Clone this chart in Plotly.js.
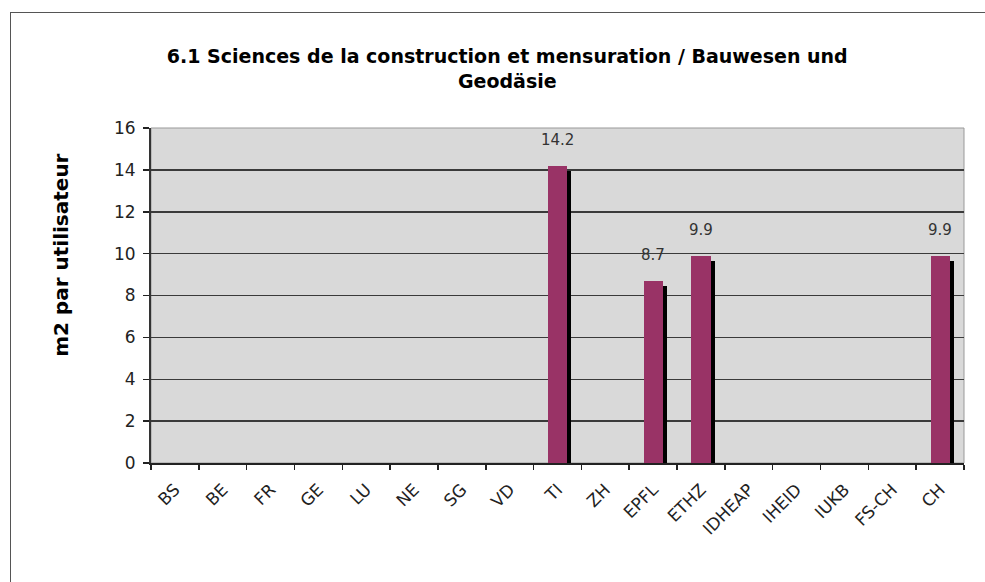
<!DOCTYPE html>
<html>
<head>
<meta charset="utf-8">
<script src="https://cdn.plot.ly/plotly-3.0.1.min.js"></script>
<style>
  html, body { margin: 0; padding: 0; background: #fff; }
  #wrap { position: relative; width: 985px; height: 582px; }
  #chart { position: absolute; left: 0; top: 0; width: 985px; height: 582px; }
  #frame { position: absolute; left: 10px; top: 12px; width: 980px; height: 580px;
           border-left: 1px solid #555; border-top: 1px solid #555; pointer-events: none; }
</style>
</head>
<body>
<div id="wrap">
  <div id="chart"></div>
  <div id="frame"></div>
</div>
<script>
const categories = ["BS","BE","FR","GE","LU","NE","SG","VD","TI","ZH","EPFL","ETHZ","IDHEAP","IHEID","IUKB","FS-CH","CH"];
const values = [null,null,null,null,null,null,null,null,14.2,null,8.7,9.9,null,null,null,null,9.9];
const valueLabels = [null,null,null,null,null,null,null,null,"14.2",null,"8.7","9.9",null,null,null,null,"9.9"];
const yTitle = "m2 par utilisateur";
const chartTitle = "6.1 Sciences de la construction et mensuration / Bauwesen und<br>Geodäsie";

const FONT = 'DejaVu Sans, Verdana, sans-serif';
const shadowDrop = 0.25;   // visual drop of the shadow top (style)
const barW = 0.4;

const shadow = {
  type: 'bar', x: categories,
  y: values.map(v => v === null ? null : v - shadowDrop),
  width: barW, offset: -barW/2 + 0.085,
  marker: { color: '#000000', line: { width: 0 } },
  hoverinfo: 'skip', showlegend: false
};
const main = {
  type: 'bar', x: categories, y: values,
  width: barW, offset: -barW/2,
  marker: { color: '#993366', line: { width: 0 } },
  showlegend: false
};

const annotations = [];
categories.forEach((c, i) => {
  if (values[i] !== null) {
    annotations.push({
      x: c, y: values[i], xref: 'x', yref: 'y',
      text: valueLabels[i], showarrow: false,
      yanchor: 'bottom', yshift: 15,
      font: { family: FONT, size: 15, color: '#333' }
    });
  }
});
annotations.push({
  text: '<b>' + yTitle + '</b>', xref: 'paper', yref: 'paper',
  x: -0.11, y: 0.62, xanchor: 'center', yanchor: 'middle',
  textangle: -90, showarrow: false,
  font: { family: FONT, size: 20, color: '#000' }
});

const layout = {
  width: 985, height: 582,
  margin: { l: 151, r: 21, t: 128, b: 119 },
  paper_bgcolor: '#ffffff',
  plot_bgcolor: '#d9d9d9',
  barmode: 'overlay',
  bargap: 0,
  title: {
    text: '<b>' + chartTitle + '</b>',
    font: { family: FONT, size: 19, color: '#000' },
    x: 0.515, xanchor: 'center', y: 0.892, yanchor: 'middle'
  },
  xaxis: {
    type: 'category',
    tickson: 'boundaries',
    ticks: 'outside', ticklen: 5, tickcolor: '#222', tickwidth: 1.5,
    tickangle: -45,
    ticklabelstandoff: 8,
    tickfont: { family: FONT, size: 17, color: '#222' },
    showline: true, linecolor: '#222', linewidth: 2,
    showgrid: false,
    range: [-0.5, categories.length - 0.5]
  },
  yaxis: {
    range: [0, 16], dtick: 2, tick0: 0,
    ticks: 'outside', ticklen: 6, tickcolor: '#222', tickwidth: 1.5,
    ticklabelstandoff: 4,
    tickfont: { family: FONT, size: 17, color: '#222' },
    showline: true, linecolor: '#333', linewidth: 2,
    showgrid: true, gridcolor: '#3a3a3a', gridwidth: 1.5,
    zeroline: false
  },
  shapes: [{
    type: 'rect', xref: 'paper', yref: 'paper', x0: 0, x1: 1, y0: 0, y1: 1,
    line: { color: '#999', width: 1 }, layer: 'below'
  }],
  annotations: annotations
};

Plotly.newPlot('chart', [shadow, main], layout, { displayModeBar: false, staticPlot: true });
</script>
</body>
</html>
